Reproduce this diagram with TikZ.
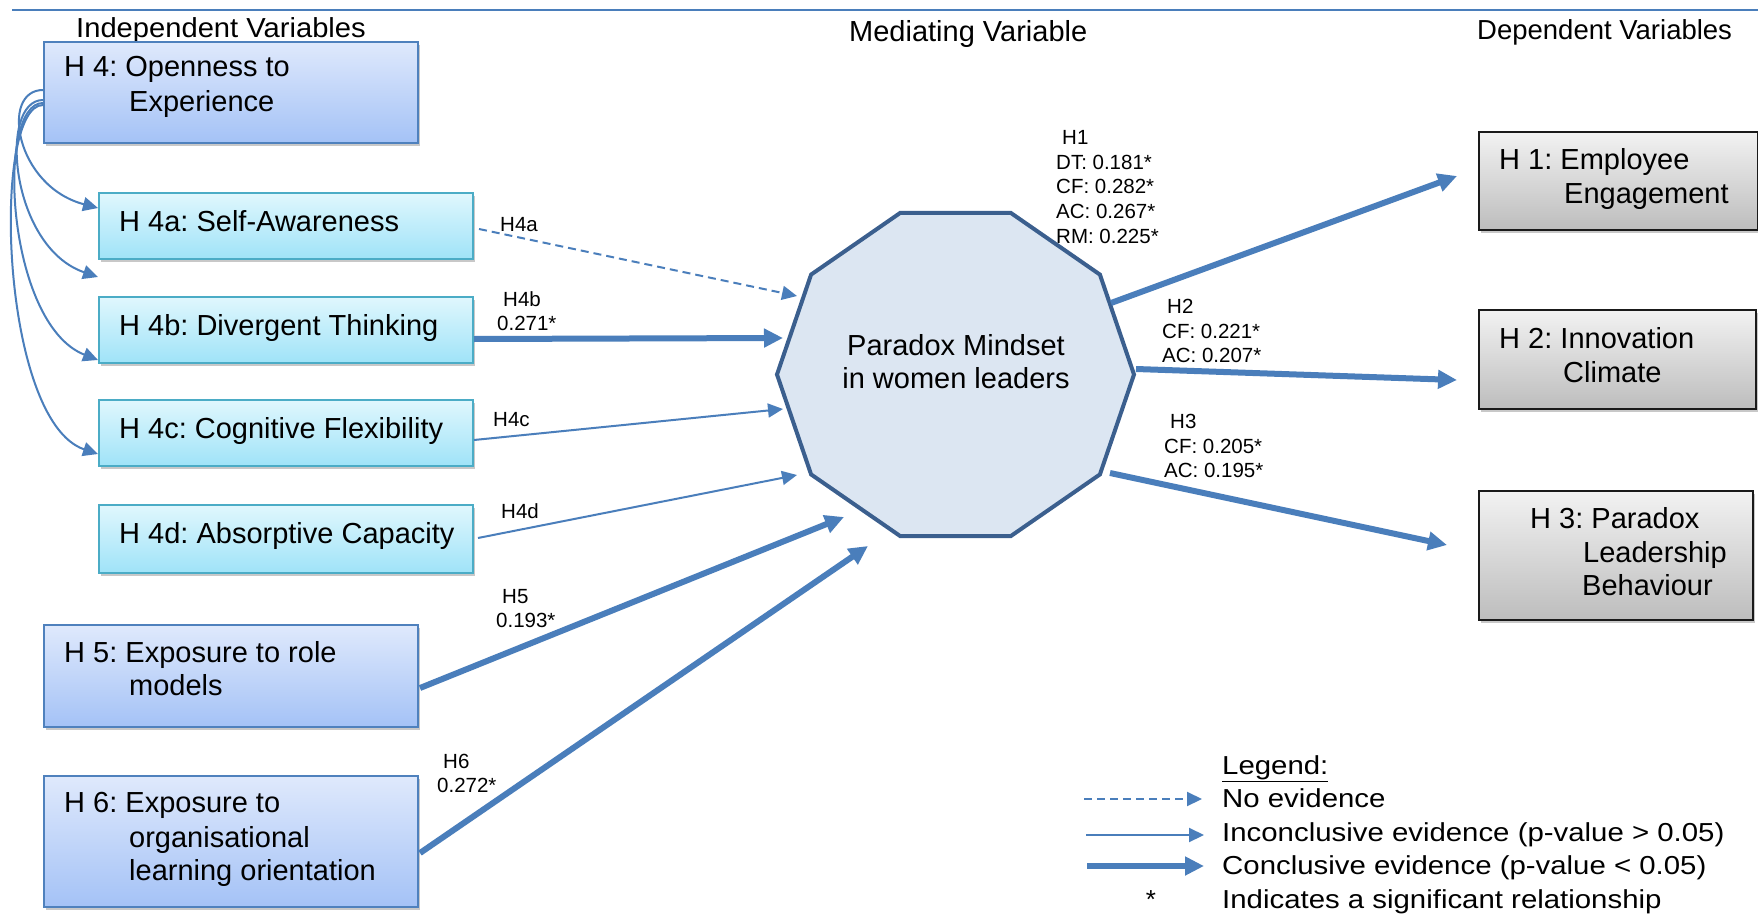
\documentclass[tikz,border=0pt]{standalone}
\usepackage{fontspec}
\setmainfont{Liberation Sans}
\usepackage{graphicx}
\usetikzlibrary{arrows.meta,shadows}
\frenchspacing

\definecolor{arrowblue}{HTML}{4A7EBB}
\definecolor{decaborder}{HTML}{3B5F8E}
\definecolor{decafill}{HTML}{DCE6F2}
\definecolor{ivtop}{HTML}{DFE9FC}
\definecolor{ivbot}{HTML}{A4C2F6}
\definecolor{ivborder}{HTML}{4F81BD}
\definecolor{subtop}{HTML}{E0F7FD}
\definecolor{subbot}{HTML}{9FE3F8}
\definecolor{subborder}{HTML}{4BACC6}
\definecolor{dvtop}{HTML}{F2F2F2}
\definecolor{dvbot}{HTML}{BDBDBD}
\definecolor{dvborder}{HTML}{1A1A1A}

\tikzset{
  boxshadow/.style={drop shadow={shadow xshift=2pt,shadow yshift=-3pt,opacity=0.3,fill=black!70}},
  ivbox/.style={draw=ivborder, line width=2pt, top color=ivtop, bottom color=ivbot,
    boxshadow, anchor=north west, inner sep=0pt},
  subbox/.style={draw=subborder, line width=2pt, top color=subtop, bottom color=subbot,
    boxshadow, anchor=north west, inner sep=0pt},
  dvbox/.style={draw=dvborder, line width=2pt, top color=dvtop, bottom color=dvbot,
    boxshadow, anchor=north west, inner sep=0pt},
  boxtext/.style={anchor=base west, inner sep=0pt, font=\fontsize{29}{34}\selectfont},
  headtext/.style={anchor=base west, inner sep=0pt},
  lbl/.style={anchor=base west, inner sep=0pt, font=\fontsize{20.5}{24.5}\selectfont},
  legtext/.style={anchor=base west, inner sep=0pt, font=\fontsize{26}{30}\selectfont},
  weakarrow/.style={draw=arrowblue, line width=2pt, -{Triangle[length=15pt,width=14pt]}},
  nullarrow/.style={weakarrow, dash pattern=on 8pt off 5pt},
  strongarrow/.style={draw=arrowblue, line width=6pt, -{Triangle[length=19pt,width=18pt]}},
  decagon/.style={draw=decaborder, line width=4pt, fill=decafill},
}

\begin{document}
\begin{tikzpicture}[x=1pt,y=-1pt]
\useasboundingbox (0,0) rectangle (1758,915);
\fill[white] (0,0) rectangle (1758,915);

% header rule and column titles
\coordinate (rl) at (12,10);
\coordinate (rr) at (1758,10);
\draw[arrowblue, line width=1.8pt] (rl) -- (rr);
\node (tind) [headtext, font=\fontsize{27.5}{32}\selectfont] at (76,38) {\scalebox{1.06}[1]{Independent Variables}};
\node (tmed) [headtext, font=\fontsize{29}{34}\selectfont] at (849,42) {Mediating Variable};
\node (tdep) [headtext, font=\fontsize{27.5}{33}\selectfont] at (1477,40) {Dependent Variables};

% independent variables
\node (h4)  [ivbox,  minimum width=374pt, minimum height=101pt] at (43,41) {};
\node (h4a) [subbox, minimum width=374pt, minimum height=66pt]  at (98,192) {};
\node (h4b) [subbox, minimum width=374pt, minimum height=66pt]  at (98,296) {};
\node (h4c) [subbox, minimum width=374pt, minimum height=66pt]  at (98,399) {};
\node (h4d) [subbox, minimum width=374pt, minimum height=68pt]  at (98,504) {};
\node (h5)  [ivbox,  minimum width=374pt, minimum height=102pt] at (43,624) {};
\node (h6)  [ivbox,  minimum width=374pt, minimum height=131pt] at (43,775) {};

\node (h4t1) [boxtext] at (64,77)   {H 4: Openness to};
\node (h4t2) [boxtext] at (129,112) {Experience};
\node (h4at) [boxtext] at (119,231) {H 4a: Self-Awareness};
\node (h4bt) [boxtext] at (119,335) {H 4b: Divergent Thinking};
\node (h4ct) [boxtext] at (119,438) {H 4c: Cognitive Flexibility};
\node (h4dt) [boxtext] at (119,543) {H 4d: Absorptive Capacity};
\node (h5t1) [boxtext] at (64,662)  {H 5: Exposure to role};
\node (h5t2) [boxtext] at (129,695) {models};
\node (h6t1) [boxtext] at (64,812)  {H 6: Exposure to};
\node (h6t2) [boxtext] at (129,847) {organisational};
\node (h6t3) [boxtext] at (129,880) {learning orientation};

% dependent variables
\node (h1) [dvbox, minimum width=279pt, minimum height=98pt]  at (1478,131) {};
\node (h2) [dvbox, minimum width=277pt, minimum height=99pt]  at (1478,309) {};
\node (h3) [dvbox, minimum width=274pt, minimum height=129pt] at (1478,490) {};

\node (h1t1) [boxtext] at (1499,169) {H 1: Employee};
\node (h1t2) [boxtext] at (1564,203) {Engagement};
\node (h2t1) [boxtext] at (1499,348) {H 2: Innovation};
\node (h2t2) [boxtext] at (1563,382) {Climate};
\node (h3t1) [boxtext] at (1530,528) {H 3: Paradox};
\node (h3t2) [boxtext] at (1583,562) {Leadership};
\node (h3t3) [boxtext] at (1582,595) {Behaviour};

% mediating variable: decagon
\coordinate (pm) at (955.5,374.5);
\begin{scope}[shift={(955.5,374.5)}]
  \filldraw[decagon] (0:178.5 and 170)
    \foreach \a in {36,72,...,324} { -- (\a:178.5 and 170) } -- cycle;
\end{scope}
\node (pmt1) [anchor=base, inner sep=0pt, font=\fontsize{29}{34}\selectfont] at (956,355) {Paradox Mindset};
\node (pmt2) [anchor=base, inner sep=0pt, font=\fontsize{29}{34}\selectfont] at (956,388) {in women leaders};

% arrow ends at the decagon
\coordinate (ta) at (797,296);
\coordinate (tb) at (783,338);
\coordinate (tc) at (783,409);
\coordinate (td) at (797,475);
\coordinate (t5) at (844,517);
\coordinate (t6) at (868,546);
\coordinate (o1) at (1111,303);
\coordinate (o2) at (1136,369);
\coordinate (o3) at (1110,473);
\coordinate (gap) at (98,277);

% paths into the mediator
\draw[nullarrow]   ([xshift=5pt,yshift=-3pt]h4a.east) -- (ta);
\draw[strongarrow] ([yshift=-9pt]h4b.east) -- (tb);
\draw[weakarrow]   ([yshift=-7pt]h4c.east) -- (tc);
\draw[weakarrow]   ([xshift=4pt,yshift=1pt]h4d.east) -- (td);
\draw[strongarrow] ([xshift=1pt,yshift=-12pt]h5.east) -- (t5);
\draw[strongarrow] ([xshift=1pt,yshift=-11.5pt]h6.east) -- (t6);

% paths out of the mediator
\draw[strongarrow] (o1) -- ([xshift=-21pt,yshift=5pt]h1.west);
\draw[strongarrow] (o2) -- ([xshift=-21pt,yshift=-20.5pt]h2.west);
\draw[strongarrow] (o3) -- ([xshift=-31pt,yshift=10.5pt]h3.west);

% openness facets
\draw[weakarrow] ([yshift=2.5pt]h4.west)   .. controls +(-43,0) and +(-83,-22) .. ([yshift=18pt]h4a.west);
\draw[weakarrow] ([yshift=-7.5pt]h4.west)  .. controls +(-45,0) and +(-88,-30) .. (gap);
\draw[weakarrow] ([yshift=-10.5pt]h4.west) .. controls +(-48,0) and +(-92,-36) .. ([yshift=-30pt]h4b.west);
\draw[weakarrow] ([yshift=-12.5pt]h4.west) .. controls +(-52,0) and +(-98,-33) .. ([yshift=-21pt]h4c.west);

% path labels
\node (la)  [lbl] at (500,231) {H4a};
\node (lb1) [lbl] at (503,306) {H4b};
\node (lb2) [lbl] at (497,330) {0.271*};
\node (lc)  [lbl] at (493,426) {H4c};
\node (ld)  [lbl] at (501,518) {H4d};
\node (l51) [lbl] at (502,603) {H5};
\node (l52) [lbl] at (496,627) {0.193*};
\node (l61) [lbl] at (443,768) {H6};
\node (l62) [lbl] at (437,792) {0.272*};

\node (l11) [lbl] at (1062,144) {H1};
\node (l12) [lbl] at (1056,169) {DT: 0.181*};
\node (l13) [lbl] at (1056,193) {CF: 0.282*};
\node (l14) [lbl] at (1056,218) {AC: 0.267*};
\node (l15) [lbl] at (1056,243) {RM: 0.225*};

\node (l21) [lbl] at (1167,313) {H2};
\node (l22) [lbl] at (1162,338) {CF: 0.221*};
\node (l23) [lbl] at (1162,362) {AC: 0.207*};

\node (l31) [lbl] at (1170,428) {H3};
\node (l32) [lbl] at (1164,453) {CF: 0.205*};
\node (l33) [lbl] at (1164,477) {AC: 0.195*};

% legend
\node (leg)  [legtext] at (1222,774) {\scalebox{1.13}[1]{\underline{Legend:}}};
\node (leg1) [legtext] at (1222,807) {\scalebox{1.13}[1]{No evidence}};
\node (leg2) [legtext] at (1222,841) {\scalebox{1.13}[1]{Inconclusive evidence (p-value > 0.05)}};
\node (leg3) [legtext] at (1222,874) {\scalebox{1.13}[1]{Conclusive evidence (p-value < 0.05)}};
\node (leg4) [legtext] at (1222,908) {\scalebox{1.13}[1]{Indicates a significant relationship}};
\node (legstar) [legtext, anchor=base] at (1151,908) {*};

\coordinate (g1s) at (1084,799); \coordinate (g1e) at (1202,799);
\coordinate (g2s) at (1086,835); \coordinate (g2e) at (1204,835);
\coordinate (g3s) at (1087,866); \coordinate (g3e) at (1204,866);
\draw[nullarrow]   (g1s) -- (g1e);
\draw[weakarrow]   (g2s) -- (g2e);
\draw[strongarrow] (g3s) -- (g3e);
\end{tikzpicture}
\end{document}
